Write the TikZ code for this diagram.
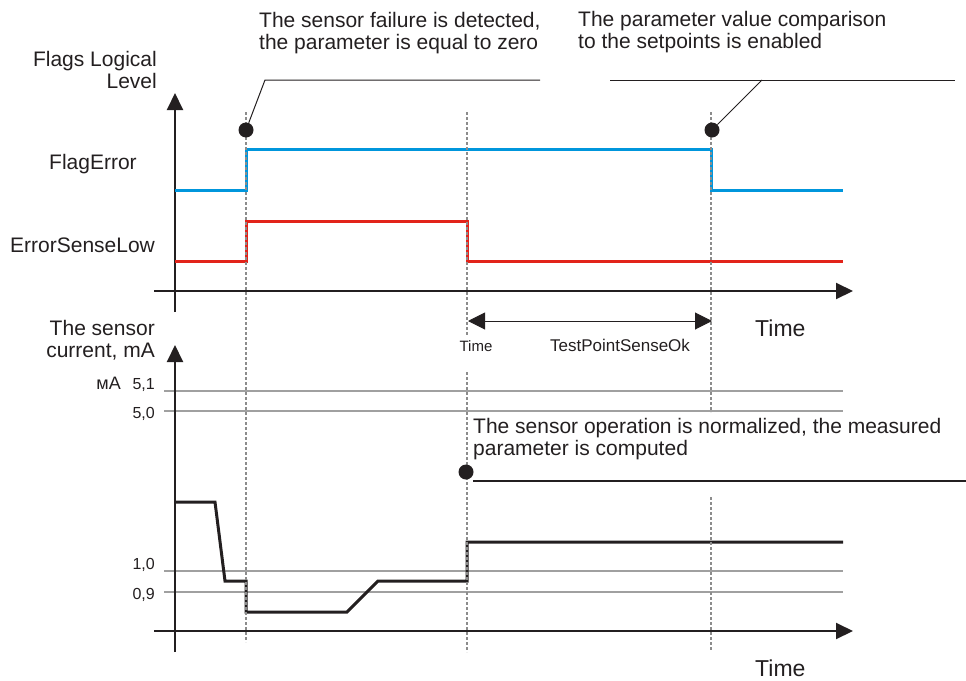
\documentclass[tikz,border=0pt]{standalone}
\usepackage{fontspec}
\setmainfont{Liberation Sans}
\usetikzlibrary{arrows.meta}
\definecolor{ink}{HTML}{231F20}
\definecolor{flagblue}{HTML}{0096DC}
\definecolor{errred}{HTML}{E2231A}
\definecolor{gridgray}{HTML}{A0A0A0}
\definecolor{guidegray}{HTML}{8C8C8C}
\begin{document}
\begin{tikzpicture}[x=1pt,y=-1pt,
  axis/.style={draw=ink,line width=2pt,-{Triangle[length=17pt,width=16pt]}},
  guide/.style={draw=guidegray,line width=1.8pt,dash pattern=on 3pt off 2pt},
  hgrid/.style={draw=gridgray,line width=1.5pt},
  sig/.style={line width=3pt,line join=miter},
  lbl/.style={font=\fontsize{21}{22.5}\selectfont,text=ink,inner sep=0pt},
  ticklbl/.style={font=\fontsize{16}{18}\selectfont,text=ink,inner sep=0pt,anchor=east},
  dotnode/.style={circle,fill=ink,minimum size=15pt,inner sep=0pt},
  leader/.style={draw=ink,line width=1pt},
  span/.style={draw=ink,line width=1pt,{Triangle[length=17pt,width=17pt]}-{Triangle[length=17pt,width=17pt]}}
]
\useasboundingbox (0,0) rectangle (966,680);

% grid lines (lower chart)
\coordinate (g51a) at (164,391); \coordinate (g51b) at (843,391);
\coordinate (g50a) at (164,411); \coordinate (g50b) at (843,411);
\coordinate (g10a) at (164,571); \coordinate (g10b) at (843,571);
\coordinate (g09a) at (164,592); \coordinate (g09b) at (843,592);
\draw[hgrid] (g51a) -- (g51b);
\draw[hgrid] (g50a) -- (g50b);
\draw[hgrid] (g10a) -- (g10b);
\draw[hgrid] (g09a) -- (g09b);

% axes
\coordinate (uy0) at (175,312); \coordinate (uy1) at (175,93);
\coordinate (ux0) at (154,291); \coordinate (ux1) at (853,291);
\coordinate (ly0) at (175,652); \coordinate (ly1) at (175,345);
\coordinate (lx0) at (154,631); \coordinate (lx1) at (853,631);
\draw[axis] (uy0) -- (uy1);
\draw[axis] (ux0) -- (ux1);
\draw[axis] (ly0) -- (ly1);
\draw[axis] (lx0) -- (lx1);

% signals
\draw[sig,flagblue] (175,190) -- (246,190) -- (246,149) -- (711,149) -- (711,190) -- (843,190);
\draw[sig,errred] (175,261) -- (246,261) -- (246,221) -- (467,221) -- (467,261) -- (843,261);
\draw[sig,ink] (175,502) -- (215,502) -- (225,581) -- (246,581) -- (246,612) -- (347,612) -- (378,581) -- (467,581) -- (467,542) -- (843,542);

% guide lines
\coordinate (ga0) at (246,112); \coordinate (ga1) at (246,642);
\coordinate (gb0) at (467,112); \coordinate (gb1) at (467,335);
\coordinate (gb2) at (467,372); \coordinate (gb3) at (467,652);
\coordinate (gc0) at (711,112); \coordinate (gc1) at (711,412);
\coordinate (gc2) at (711,497); \coordinate (gc3) at (711,650);
\draw[guide] (ga0) -- (ga1);
\draw[guide] (gb0) -- (gb1);
\draw[guide] (gb2) -- (gb3);
\draw[guide] (gc0) -- (gc1);
\draw[guide] (gc2) -- (gc3);

% interval arrow
\coordinate (sp0) at (468,321); \coordinate (sp1) at (712,321);
\draw[span] (sp0) -- (sp1);
\node[font=\fontsize{15}{17}\selectfont,text=ink,inner sep=0pt] (tsmall) at (476,346) {Time};
\node[font=\fontsize{17}{19}\selectfont,text=ink,inner sep=0pt] (tpso) at (620,345) {TestPointSenseOk};

% dots and leaders
\node[dotnode] (d1) at (246,130) {};
\node[dotnode] (d2) at (712,130) {};
\node[dotnode] (d3) at (466,472) {};
\coordinate (l1a) at (265,80); \coordinate (l1b) at (540,80);
\draw[leader] (d1) -- (l1a) -- (l1b);
\coordinate (l2a) at (762,80); \coordinate (l2l) at (610,80); \coordinate (l2r) at (955,80);
\draw[leader] (l2l) -- (l2r);
\draw[leader] (d2) -- (l2a);
\coordinate (l3a) at (473,481); \coordinate (l3b) at (966,481);
\draw[draw=ink,line width=2pt] (l3a) -- (l3b);

% texts
\node[lbl,align=left,anchor=west] (c1) at (259,33) {The sensor failure is detected,\\the parameter is equal to zero};
\node[lbl,align=left,anchor=west] (c2) at (578,32) {The parameter value comparison\\to the setpoints is enabled};
\node[lbl,align=left,anchor=west] (c3) at (473,439) {The sensor operation is normalized, the measured\\parameter is computed};
\node[lbl,align=right,anchor=east] (ylab1) at (157,70) {Flags Logical\\Level};
\node[lbl,anchor=west] (fe) at (49,164) {FlagError};
\node[lbl,anchor=west] (esl) at (10,245) {ErrorSenseLow};
\node[lbl,align=right,anchor=east] (ylab2) at (155,340) {The sensor\\current, mA};
\node[ticklbl,font=\fontsize{18}{20}\selectfont] (ma) at (121,383) {мА};
\node[ticklbl] (t51) at (155,385) {5,1};
\node[ticklbl] (t50) at (155,414) {5,0};
\node[ticklbl] (t10) at (155,565) {1,0};
\node[ticklbl] (t09) at (155,595) {0,9};
\node[font=\fontsize{23}{25}\selectfont,text=ink,inner sep=0pt,anchor=west] (time1) at (755,328) {Time};
\node[font=\fontsize{23}{25}\selectfont,text=ink,inner sep=0pt,anchor=west] (time2) at (755,668) {Time};
\end{tikzpicture}
\end{document}
